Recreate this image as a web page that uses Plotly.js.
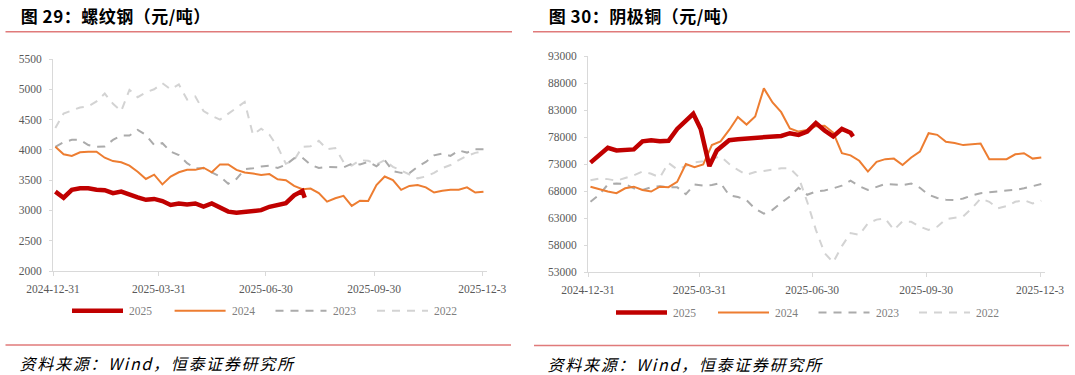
<!DOCTYPE html>
<html><head><meta charset="utf-8">
<script src="https://cdn.plot.ly/plotly-3.0.1.min.js"></script>
<style>html,body{margin:0;padding:0;background:#fff}#chart{width:1075px;height:375px}</style>
</head><body><div id="chart"></div>
<script>
// ---------- data ----------
const weekDates = ['2025-01-02','2025-01-09','2025-01-16','2025-01-23','2025-01-30','2025-02-06','2025-02-13','2025-02-20','2025-02-27','2025-03-06','2025-03-13','2025-03-20','2025-03-27','2025-04-03','2025-04-10','2025-04-17','2025-04-24','2025-05-01','2025-05-08','2025-05-15','2025-05-22','2025-05-29','2025-06-05','2025-06-12','2025-06-19','2025-06-26','2025-07-03','2025-07-10','2025-07-17','2025-07-24','2025-07-31','2025-08-07','2025-08-14','2025-08-21','2025-08-28','2025-09-04','2025-09-11','2025-09-18','2025-09-25','2025-10-02','2025-10-09','2025-10-16','2025-10-23','2025-10-30','2025-11-06','2025-11-13','2025-11-20','2025-11-27','2025-12-04','2025-12-11','2025-12-18','2025-12-25','2026-01-01'];

const seriesNames = ['2025','2024','2023','2022'];

// 螺纹钢
const rebarDates2025 = ['2025-01-02','2025-01-09','2025-01-16','2025-01-23','2025-01-30','2025-02-06','2025-02-13','2025-02-20','2025-02-27','2025-03-06','2025-03-13','2025-03-20','2025-03-27','2025-04-03','2025-04-10','2025-04-17','2025-04-24','2025-05-01','2025-05-08','2025-05-15','2025-05-22','2025-05-29','2025-06-05','2025-06-12','2025-06-19','2025-06-26','2025-07-03','2025-07-10','2025-07-17','2025-07-24','2025-07-31','2025-08-02'];
const rebar2025 = [3310,3210,3340,3365,3365,3340,3335,3285,3310,3255,3215,3175,3190,3155,3090,3115,3100,3115,3065,3115,3045,2980,2960,2980,2985,3005,3060,3090,3120,3250,3320,3210];
const rebar2024 = [4050,3927,3900,3960,3970,3970,3870,3815,3795,3740,3640,3520,3590,3430,3560,3630,3670,3670,3705,3630,3760,3760,3670,3625,3610,3585,3600,3515,3500,3405,3350,3360,3285,3145,3200,3240,3075,3160,3155,3420,3560,3500,3340,3405,3420,3380,3295,3325,3340,3340,3380,3295,3310];
const rebar2023 = [4050,4125,4165,4165,4080,4050,4055,4165,4235,4235,4330,4245,4080,4110,3970,3915,3780,3695,3695,3630,3560,3440,3520,3680,3695,3725,3740,3700,3755,3860,3870,3755,3700,3720,3720,3710,3770,3760,3800,3730,3830,3650,3620,3615,3720,3800,3910,3940,3900,3990,3955,4010,4010];
const rebar2022 = [4360,4600,4650,4700,4720,4800,4930,4760,4640,4990,4870,4950,5000,5100,5000,5080,4830,4880,4640,4560,4500,4600,4700,4790,4250,4350,4250,4050,3770,3830,4050,4060,4150,4010,4030,3800,3740,3830,3820,3760,3830,3720,3660,3600,3530,3560,3620,3700,3750,3830,3900,3950,3980];
const rebarTicks = [2000,2500,3000,3500,4000,4500,5000,5500];

// 阴极铜
const copperDates2025 = ['2025-01-02','2025-01-09','2025-01-16','2025-01-23','2025-01-30','2025-02-06','2025-02-13','2025-02-20','2025-02-27','2025-03-06','2025-03-13','2025-03-20','2025-03-26','2025-04-01','2025-04-08','2025-04-14','2025-04-24','2025-05-01','2025-05-08','2025-05-15','2025-05-22','2025-05-29','2025-06-05','2025-06-12','2025-06-19','2025-06-26','2025-07-03','2025-07-10','2025-07-17','2025-07-24','2025-07-31','2025-08-02'];
const copper2025 = [73250,74600,76000,75500,75600,75700,77200,77400,77200,77300,79500,81000,82300,79500,72600,75500,77400,77600,77700,78000,77900,78000,78200,78700,78400,79000,80600,79200,78100,79500,78800,78100];
const copper2024 = [68800,68300,67900,67600,68500,68800,68200,67900,68800,68700,69700,73000,72400,72900,76500,77200,79300,81700,80300,81800,87000,84400,82600,79600,79000,79300,80000,80100,78800,75000,74600,73600,71600,73400,73900,74000,72800,74200,75300,78700,78400,77100,76900,76500,76700,76800,73900,73900,73900,74800,75000,74000,74200];
const copper2023 = [66000,67300,69200,69400,69300,68500,68200,68700,68900,68700,68700,67400,69200,69000,69100,69500,67200,66900,66300,64700,63800,64500,65800,67000,68600,67300,67900,68100,68500,69000,69900,68900,68200,68700,69300,69200,69100,69400,68600,67300,66700,66400,66300,66600,67200,67600,67700,67900,68100,68200,68500,68900,69300];
const copper2022 = [70000,70300,70200,69900,70400,70900,71600,71200,70500,73200,72000,72700,73300,73500,74000,74400,73000,71900,71000,71500,71700,71900,72200,72200,70600,66000,60800,56500,54800,57800,60200,59900,62000,62700,62900,60800,62400,62300,61400,60800,61400,62800,63100,63300,64800,66600,66000,64800,65200,66000,66300,65700,66200];
const copperTicks = [53000,58000,63000,68000,73000,78000,83000,88000,93000];

const xTickVals = ['2024-12-31','2025-03-31','2025-06-30','2025-09-30','2025-12-31'];
const xTickText = ['2024-12-31','2025-03-31','2025-06-30','2025-09-30','2025-12-3'];

const titles = ['图 29：螺纹钢（元/吨）','图 30：阴极铜（元/吨）'];
const sourceText = '资料来源：Wind，恒泰证券研究所';

// ---------- styles ----------
const W = 1075, H = 375;
const px = x => x / W;
const py = y => 1 - y / H;
const styles = {
  '2025': {color:'#C00000', width:4.5, dash:'solid'},
  '2024': {color:'#ED7D31', width:2, dash:'solid'},
  '2023': {color:'#ABABAB', width:2, dash:'8px,7px'},
  '2022': {color:'#D3D3D3', width:2, dash:'8px,7px'}
};
const tickFont = {family:'Liberation Serif, Times New Roman, serif', size:11.5, color:'#595959'};

function mk(name, x, y, xa, ya){
  const s = styles[name];
  return {type:'scatter', mode:'lines', name:name, x:x, y:y, xaxis:xa, yaxis:ya,
    line:{color:s.color, width:s.width, dash:s.dash, shape:'linear'}, hoverinfo:'skip', showlegend:false};
}
const traces = [
  mk('2022', weekDates, rebar2022, 'x', 'y'),
  mk('2023', weekDates, rebar2023, 'x', 'y'),
  mk('2024', weekDates, rebar2024, 'x', 'y'),
  mk('2025', rebarDates2025, rebar2025, 'x', 'y'),
  mk('2022', weekDates, copper2022, 'x2', 'y2'),
  mk('2023', weekDates, copper2023, 'x2', 'y2'),
  mk('2024', weekDates, copper2024, 'x2', 'y2'),
  mk('2025', copperDates2025, copper2025, 'x2', 'y2')
];

const axisLine = '#D9D9D9';
function xAx(d0, d1, anchor){
  return {domain:[px(d0), px(d1)], anchor:anchor, type:'date', range:['2024-12-31','2026-01-04'],
    tickmode:'array', tickvals:xTickVals, ticktext:xTickText, ticks:'outside', ticklen:4, tickcolor:axisLine,
    showline:true, linecolor:axisLine, linewidth:1, showgrid:false, zeroline:false, tickfont:tickFont,
    ticklabelstandoff:3, fixedrange:true};
}
function yAx(top, bottom, range, ticks, anchor){
  return {domain:[py(bottom), py(top)], anchor:anchor, range:range, tickmode:'array', tickvals:ticks,
    ticktext:ticks.map(String),
    ticks:'outside', ticklen:3, tickcolor:axisLine, showline:true, linecolor:axisLine, linewidth:1,
    showgrid:false, zeroline:false, tickfont:tickFont, ticklabelstandoff:5, fixedrange:true};
}

const shapes = [];
const annotations = [];
const redLine = '#E07A7A';
function hline(x0, x1, y, color, width, dash){
  shapes.push({type:'line', xref:'paper', yref:'paper', x0:px(x0), x1:px(x1), y0:py(y), y1:py(y),
    line:{color:color, width:width, dash:dash||'solid'}});
}
function text(t, x, y, font, xanchor){
  annotations.push({xref:'paper', yref:'paper', x:px(x), y:py(y), text:t, showarrow:false,
    xanchor:xanchor||'left', yanchor:'middle', font:font});
}
// title rules and source rules
hline(5.5, 512, 31.7, redLine, 1.5);
hline(533, 1070, 31.7, redLine, 1.5);
hline(5.5, 511, 345, redLine, 1.5);
hline(534, 1069, 345.6, redLine, 1.5);
// titles (x offsets compensate for letter spacing added after render)
const titleFont = {family:'Noto Sans CJK SC, sans-serif', size:17, color:'#000000'};
text('<b>' + titles[0] + '</b>', 21.7, 15.5, titleFont);
text('<b>' + titles[1] + '</b>', 549.7, 15.5, titleFont);
// sources
const srcFont = {family:'Noto Sans CJK SC, sans-serif', size:16, color:'#000000', style:'italic'};
text(sourceText, 31.5, 362.5, srcFont);
text(sourceText, 559.5, 363.7, srcFont);
// legends
const legFont = {family:'Liberation Serif, Times New Roman, serif', size:11.5, color:'#7F7F7F'};
function legend(starts, y){
  seriesNames.forEach((n, i) => {
    const s = styles[n];
    hline(starts[i], starts[i] + 51, y, s.color, s.width, s.dash);
    text(n, starts[i] + 55, y, legFont);
  });
}
legend([72, 174.6, 275.5, 377], 310.7);
legend([616, 718, 818.5, 919], 312.6);

const layout = {
  width:W, height:H, margin:{l:0, r:0, t:0, b:0}, paper_bgcolor:'#ffffff', plot_bgcolor:'#ffffff',
  showlegend:false,
  xaxis: xAx(53, 487, 'y'),
  yaxis: yAx(59, 271, [2000, 5500], rebarTicks, 'x'),
  xaxis2: xAx(588, 1045, 'y2'),
  yaxis2: yAx(56, 272, [53000, 93000], copperTicks, 'x2'),
  shapes: shapes, annotations: annotations
};
Plotly.newPlot('chart', traces, layout, {staticPlot:true, displayModeBar:false}).then(() => {
  document.querySelectorAll('.annotation-text').forEach(el => {
    const t = el.textContent;
    if (t === sourceText) el.style.letterSpacing = '1.7px';
    else if (titles.includes(t)) el.style.letterSpacing = '0.5px';
  });
});
</script>
</body></html>
